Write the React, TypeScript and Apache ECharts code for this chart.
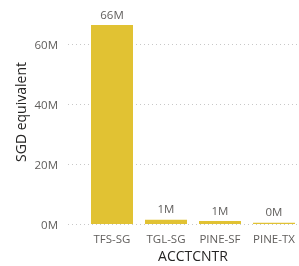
import React, { useEffect, useRef } from "react";
import * as echarts from "echarts";

const categories = ["TFS-SG", "TGL-SG", "PINE-SF", "PINE-TX"];
const values = [66.3, 1.4, 1.0, 0.4]; // millions SGD
const yTicks = [0, 20, 40, 60];

export default function App() {
  const ref = useRef<HTMLDivElement>(null);
  useEffect(() => {
    if (!ref.current) return;
    const chart = echarts.init(ref.current, undefined, { renderer: "svg" });
    const font = "Open Sans";
    chart.setOption({
      animation: false,
      textStyle: { fontFamily: font },
      grid: [
        { left: 68, right: 0, top: 44, bottom: 42, outerBoundsMode: "none", containLabel: false },
        { left: 85, right: -2, top: 14, bottom: 42, outerBoundsMode: "none", containLabel: false },
      ],
      xAxis: [
        { gridIndex: 0, type: "value", show: false, min: 0, max: 1 },
        {
          gridIndex: 1,
          type: "category",
          data: categories,
          axisLine: { show: false },
          axisTick: { show: false },
          axisLabel: { color: "#605E5C", fontSize: 11.5, margin: 8, interval: 0, fontFamily: font },
          name: "ACCTCNTR",
          nameLocation: "middle",
          nameGap: 23,
          nameTextStyle: { color: "#252423", fontSize: 14, fontFamily: font },
        },
      ],
      yAxis: [
        {
          gridIndex: 0,
          type: "value",
          min: yTicks[0],
          max: yTicks[yTicks.length - 1],
          interval: 20,
          axisLine: { show: false },
          axisTick: { show: false },
          axisLabel: {
            color: "#605E5C",
            fontSize: 11.5,
            margin: 10,
            fontFamily: font,
            formatter: (v: number) => v + "M",
          },
          splitLine: { lineStyle: { color: "#C8C8C8", type: [1, 3], width: 1 } },
        },
        { gridIndex: 1, type: "value", min: 0, max: 70, show: false },
      ],
      graphic: [
        {
          type: "text",
          x: 20,
          y: 112,
          rotation: Math.PI / 2,
          style: {
            text: "SGD equivalent",
            fill: "#252423",
            font: `14px '${font}'`,
            align: "center",
            verticalAlign: "middle",
          },
        },
      ],
      series: [
        {
          type: "bar",
          xAxisIndex: 1,
          yAxisIndex: 1,
          data: values,
          barWidth: 42,
          itemStyle: { color: "#E1C233" },
          label: {
            show: true,
            position: "top",
            distance: 5,
            color: "#605E5C",
            fontSize: 11.5,
            fontFamily: font,
            formatter: (p: any) => Math.round(p.value) + "M",
          },
        },
      ],
    });
    return () => chart.dispose();
  }, []);
  return (
    <div
      ref={ref}
      style={{ position: "fixed", left: 0, top: 0, width: 299, height: 266 }}
    />
  );
}
